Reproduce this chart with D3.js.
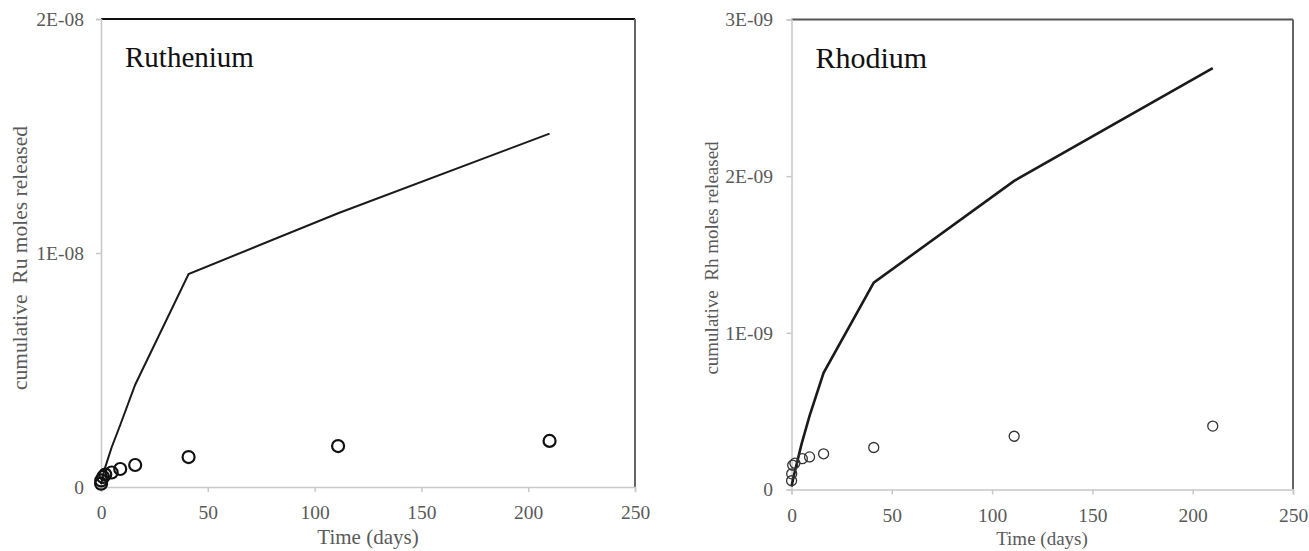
<!DOCTYPE html>
<html>
<head>
  <meta charset="utf-8">
  <title>Cumulative moles released</title>
  <script src="https://d3js.org/d3.v7.min.js"></script>
  <style>
    body { margin: 0; background: #fff; }
    text { font-family: "Liberation Serif", "Times New Roman", serif; }
  </style>
</head>
<body>
  <script type="text/javascript">

    // Ruthenium: model line and measured points (days, moles)
    var ruLineT = [0.04, 1, 2, 5, 9, 16, 41, 111, 210];
    var ruLineV = [0.12e-9, 0.5e-9, 0.85e-9, 1.7e-9, 2.65e-9, 4.37e-9, 9.1e-9, 1.17e-8, 1.51e-8];
    var ruPtsT = [0.04, 0.1, 1, 2, 5, 9, 16, 41, 111, 210];
    var ruPtsV = [0.14e-9, 0.28e-9, 0.43e-9, 0.53e-9, 0.62e-9, 0.77e-9, 0.94e-9, 1.28e-9, 1.75e-9, 1.97e-9];

    // Rhodium
    var rhLineT = [0.04, 1, 5, 9, 16, 41, 111, 210];
    var rhLineV = [0.02e-9, 0.08e-9, 0.29e-9, 0.47e-9, 0.745e-9, 1.32e-9, 1.97e-9, 2.69e-9];
    var rhPtsT = [0.04, 0.1, 0.6, 1.7, 5.4, 9, 16, 41, 111, 210];
    var rhPtsV = [0.056e-9, 0.10e-9, 0.155e-9, 0.168e-9, 0.197e-9, 0.208e-9, 0.228e-9, 0.268e-9, 0.34e-9, 0.405e-9];

    var xTicks = [0, 50, 100, 150, 200, 250];
    var ruYTicks = [0, 1e-8, 2e-8];
    var rhYTicks = [0, 1e-9, 2e-9, 3e-9];

    var svg = d3.select("body").append("svg")
      .attr("width", 1309)
      .attr("height", 551);

    // Excel style "1E-08"
    function sci(d) {
      if (d === 0) return "0";
      var e = Math.floor(Math.log10(d) + 1e-9);
      var m = Math.round(d / Math.pow(10, e));
      return m + "E" + (e < 0 ? "-" : "+") + String(Math.abs(e)).padStart(2, "0");
    }

    function drawPanel(o) {
      var x = d3.scaleLinear().domain([0, 250]).range([o.x0, o.x1]);
      var y = d3.scaleLinear().domain([0, o.yMax]).range([o.y0, o.y1]);
      var g = svg.append("g");

      // frame: top and right darker, left/bottom light gray
      g.append("line").attr("x1", o.x0).attr("x2", o.x1).attr("y1", o.y1).attr("y2", o.y1)
        .attr("stroke", o.topColor).attr("stroke-width", 2);
      g.append("line").attr("x1", o.x1).attr("x2", o.x1).attr("y1", o.y1).attr("y2", o.y0)
        .attr("stroke", "#666").attr("stroke-width", 2);

      var xAxis = g.append("g").attr("transform", "translate(0," + o.y0 + ")")
        .call(d3.axisBottom(x).tickValues(xTicks).tickSize(5).tickPadding(o.xPad));
      var yAxis = g.append("g").attr("transform", "translate(" + o.x0 + ",0)")
        .call(d3.axisLeft(y).tickValues(o.yTicks).tickFormat(sci).tickSize(5).tickPadding(o.yPad));
      [xAxis, yAxis].forEach(function (a) {
        a.select(".domain").attr("stroke", "#c8c8c8").attr("stroke-width", 1.5);
        a.selectAll(".tick line").attr("stroke", "#c8c8c8").attr("stroke-width", 1.5);
        a.selectAll(".tick text").attr("fill", "#595959")
          .style("font-family", "Liberation Serif").style("font-size", o.tickFont + "px");
      });

      var line = d3.line()
        .x(function (d) { return x(d[0]); })
        .y(function (d) { return y(d[1]); });
      g.append("path")
        .datum(d3.zip(o.lineT, o.lineV))
        .attr("d", line)
        .attr("fill", "none")
        .attr("stroke", "#1a1a1a")
        .attr("stroke-width", o.lineW);

      g.selectAll("circle")
        .data(d3.zip(o.ptsT, o.ptsV))
        .enter().append("circle")
        .attr("cx", function (d) { return x(d[0]); })
        .attr("cy", function (d) { return y(d[1]); })
        .attr("r", o.r)
        .attr("fill", "none")
        .attr("stroke", o.ptColor)
        .attr("stroke-width", o.ptW);

      g.append("text").attr("x", o.x0 + 24).attr("y", o.y1 + 48)
        .style("font-size", o.titleFont + "px").attr("fill", "#111").text(o.title);

      g.append("text")
        .attr("transform", "translate(" + o.yLabX + "," + o.yLabY + ") rotate(-90)")
        .attr("text-anchor", "middle")
        .attr("fill", "#595959")
        .style("font-size", o.labFont + "px")
        .style("white-space", "pre")
        .text(o.yLabel);

      g.append("text")
        .attr("x", o.xLabX).attr("y", o.xLabY)
        .attr("text-anchor", "middle")
        .attr("fill", "#595959")
        .style("font-size", o.xLabFont + "px")
        .text("Time (days)");
    }

    drawPanel({
      x0: 101, x1: 635, y0: 487, y1: 19, yMax: 2e-8, yTicks: ruYTicks,
      lineT: ruLineT, lineV: ruLineV, ptsT: ruPtsT, ptsV: ruPtsV,
      title: "Ruthenium", yLabel: "cumulative  Ru moles released",
      yLabX: 27, yLabY: 258, xLabX: 368, xLabY: 544,
      tickFont: 19.5, labFont: 21.5, xLabFont: 21, titleFont: 29, xPad: 13, yPad: 12,
      topColor: "#111", lineW: 2, r: 6, ptW: 2.2, ptColor: "#111"
    });

    drawPanel({
      x0: 791.5, x1: 1293, y0: 489.5, y1: 19.5, yMax: 3e-9, yTicks: rhYTicks,
      lineT: rhLineT, lineV: rhLineV, ptsT: rhPtsT, ptsV: rhPtsV,
      title: "Rhodium", yLabel: "cumulative  Rh moles released",
      yLabX: 718, yLabY: 258, xLabX: 1042, xLabY: 545,
      tickFont: 19.5, labFont: 19, xLabFont: 19, titleFont: 30, xPad: 14, yPad: 13.5,
      topColor: "#555", lineW: 2.6, r: 5, ptW: 1.3, ptColor: "#333"
    });
  </script>
</body>
</html>
